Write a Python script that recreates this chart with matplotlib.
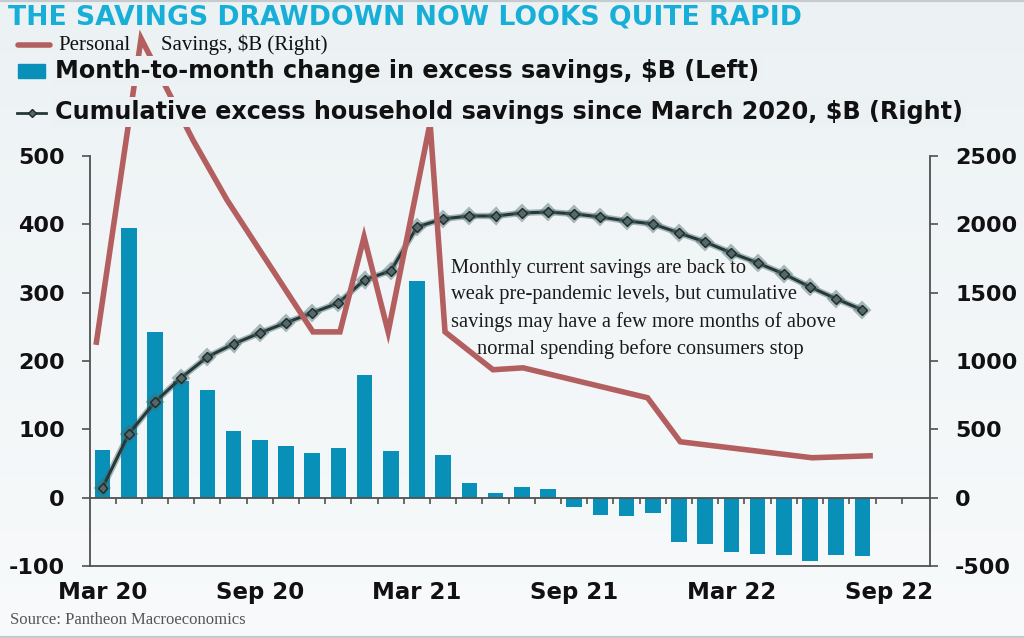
import numpy as np
import matplotlib
matplotlib.use("Agg")
import matplotlib.pyplot as plt
import matplotlib.patheffects as pe
from matplotlib.lines import Line2D
from matplotlib.patches import Rectangle

plt.rcParams['axes.unicode_minus'] = False

# monthly data, Mar 2020 .. Aug 2022
months = ['Mar 20', 'Apr 20', 'May 20', 'Jun 20', 'Jul 20', 'Aug 20', 'Sep 20', 'Oct 20',
          'Nov 20', 'Dec 20', 'Jan 21', 'Feb 21', 'Mar 21', 'Apr 21', 'May 21', 'Jun 21',
          'Jul 21', 'Aug 21', 'Sep 21', 'Oct 21', 'Nov 21', 'Dec 21', 'Jan 22', 'Feb 22',
          'Mar 22', 'Apr 22', 'May 22', 'Jun 22', 'Jul 22', 'Aug 22']
monthly_change = [70, 395, 242, 170, 157, 97, 84, 76, 65, 72, 180, 68, 317, 62, 22, 7,
                  16, 12, -14, -25, -27, -22, -65, -68, -80, -82, -84, -92, -84, -86]
cumulative = [73, 467, 700, 877, 1030, 1125, 1205, 1280, 1352, 1425, 1594, 1660, 1981,
              2040, 2061, 2061, 2083, 2090, 2076, 2054, 2025, 2003, 1937, 1871, 1791,
              1718, 1637, 1542, 1455, 1374]

# personal savings line (position in months from Mar 20, $B right axis)
personal_x = [-0.25, 1.47, 3.45, 4.75, 8.03, 9.06, 9.98, 10.9, 12.5, 13.07, 14.9, 16.05,
              20.8, 22.05, 27.08, 29.4]
personal_sav = [1118, 3360, 2617, 2178, 1213, 1213, 1908, 1213, 2741, 1213, 936, 950,
                731, 409, 292, 307]

xtick_pos = [0, 6, 12, 18, 24, 30]
xtick_labels = ['Mar 20', 'Sep 20', 'Mar 21', 'Sep 21', 'Mar 22', 'Sep 22']

W, H = 1024, 638
BG_TOP, BG_BOT = '#ecf2f4', '#f8fafb'
BG = '#eef3f5'
BAR = '#0890b8'
RED = '#b45f5f'
DARK = '#26393a'
AXC = '#505050'

fig = plt.figure(figsize=(W / 100, H / 100), dpi=100)
fig.patch.set_facecolor(BG)

# background gradient
bg = fig.add_axes([0, 0, 1, 1], zorder=-10)
grad = np.linspace(0, 1, 256).reshape(-1, 1)
c1 = np.array(matplotlib.colors.to_rgb(BG_TOP))
c2 = np.array(matplotlib.colors.to_rgb(BG_BOT))
img = c1[None, None, :] * (1 - grad[:, :, None]) + c2[None, None, :] * grad[:, :, None]
bg.imshow(img, aspect='auto', extent=[0, 1, 0, 1], origin='upper')
bg.axis('off')


def fx(px):
    return px / W


def fy(py):
    return 1 - py / H


ax = fig.add_axes([fx(90), fy(566), fx(930) - fx(90), fy(156) - fy(566)])
ax.patch.set_visible(False)
idx = np.arange(len(months))

ax.bar(idx, monthly_change, width=0.6, color=BAR, zorder=2)
ax.axhline(0, color=AXC, lw=1.3, zorder=3)
ax.vlines(np.arange(0.5, 31, 1), -9, 0, color=AXC, lw=1.2, zorder=3)

ax.set_xlim(-0.48, 31.58)
ax.set_ylim(-100, 500)
ax.set_yticks(np.arange(-100, 501, 100))
ax.set_xticks(xtick_pos)
ax.set_xticklabels(xtick_labels, fontweight='bold')
ax.tick_params(axis='x', length=0, pad=11, labelsize=16.5, colors='#111111')
ax.tick_params(axis='y', length=6, width=1.2, pad=12, labelsize=16, colors=AXC,
               labelcolor='#111111')
for lbl in ax.get_yticklabels():
    lbl.set_fontweight('bold')
for s in ['top', 'right']:
    ax.spines[s].set_visible(False)
for s in ['left', 'bottom']:
    ax.spines[s].set_color(AXC)
    ax.spines[s].set_linewidth(1.3)

ax2 = ax.twinx()
ax2.set_ylim(-500, 2500)
ax2.set_yticks(np.arange(-500, 2501, 500))
ax2.tick_params(axis='y', length=6, width=1.2, pad=12, labelsize=16, colors=AXC,
                labelcolor='#111111')
for lbl in ax2.get_yticklabels():
    lbl.set_fontweight('bold')
for s in ['top', 'left', 'bottom']:
    ax2.spines[s].set_visible(False)
ax2.spines['right'].set_color(AXC)
ax2.spines['right'].set_linewidth(1.3)

ax2.plot(idx, cumulative, color=DARK, lw=2.2, marker='D', ms=5, mfc='#56686a',
         mec='#1e2b2b', mew=1.0, zorder=3,
         path_effects=[pe.Stroke(linewidth=4.5, foreground='#4a6a6a', alpha=0.45),
                       pe.Normal()])
ax2.plot(personal_x, personal_sav, color=RED, lw=4, clip_on=False, zorder=4,
         solid_joinstyle='miter', solid_capstyle='butt')

# annotation
note = ["Monthly current savings are back to",
        "weak pre-pandemic levels, but cumulative",
        "savings may have a few more months of above"]
for i, line in enumerate(note):
    fig.text(fx(451), fy(268 + 27 * i), line, family='Liberation Serif', fontsize=14.8,
             color='#1a1a1a', va='center', ha='left', zorder=20)
fig.text(fx(477), fy(349), "normal spending before consumers stop", family='Liberation Serif',
         fontsize=14.8, color='#1a1a1a', va='center', ha='left', zorder=20)

# overlay for title and legend
ov = fig.add_axes([0, 0, 1, 1], zorder=10)
ov.set_xlim(0, W)
ov.set_ylim(H, 0)
ov.axis('off')

ov.text(8, 18, "THE SAVINGS DRAWDOWN NOW LOOKS QUITE RAPID", fontsize=19.2, weight='bold',
        color='#17afd8', va='center', ha='left')

ov.add_line(Line2D([18, 50], [45, 45], color=RED, lw=4, solid_capstyle='round'))
ov.text(58, 45, "Personal", family='Liberation Serif', fontsize=15, color='#111111',
        va='center')
ov.text(161, 45, "Savings, $B (Right)", family='Liberation Serif', fontsize=15,
        color='#111111', va='center')

ov.add_patch(Rectangle((18, 64), 27, 14, color=BAR))
ov.text(55, 71, "Month-to-month change in excess savings, $B (Left)", fontsize=17.2,
        weight='bold', color='#111111', va='center',
        bbox=dict(boxstyle='square,pad=0.12', fc=BG_TOP, ec='none'))

ov.add_line(Line2D([17, 46], [113, 113], color=DARK, lw=2))
ov.add_line(Line2D([32], [113], marker='D', ms=4.5, mfc='#56686a', mec='#1e2b2b', lw=0))
ov.text(55, 112, "Cumulative excess household savings since March 2020, $B (Right)",
        fontsize=17.2, weight='bold', color='#111111', va='center',
        bbox=dict(boxstyle='square,pad=0.12', fc=BG_TOP, ec='none'))

ov.text(10, 620, "Source: Pantheon Macroeconomics", family='Liberation Serif', fontsize=12,
        color='#555555', va='center')

ov.add_line(Line2D([0, W], [0.8, 0.8], color='#c5cbcf', lw=1.6))
ov.add_line(Line2D([0, W], [636.5, 636.5], color='#c5cbcf', lw=1.6))

fig.savefig('out.png', dpi=100, facecolor=fig.get_facecolor())
